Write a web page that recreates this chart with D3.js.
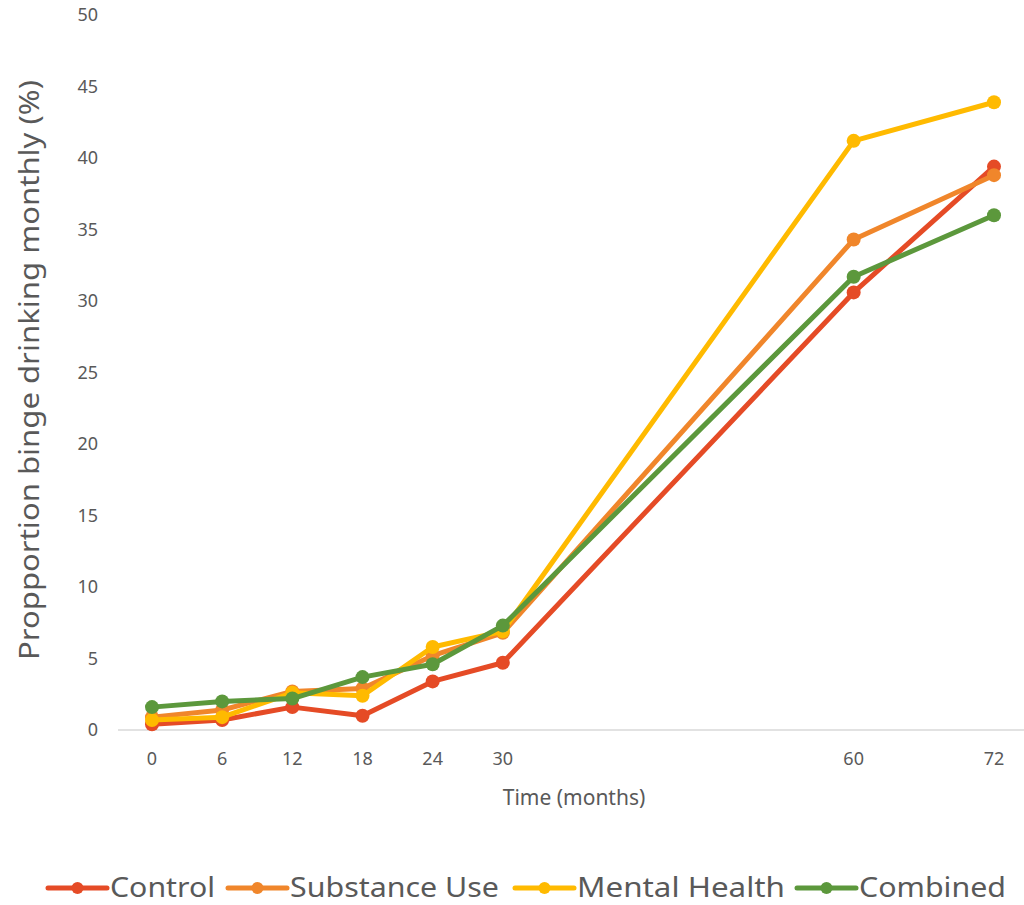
<!DOCTYPE html>
<html><head><meta charset="utf-8">
<script src="https://cdn.jsdelivr.net/npm/d3@7"></script>
<style>body{margin:0;background:#fff}svg{display:block}</style>
</head><body>
<svg id="c" width="1024" height="905"></svg>
<script>
const months = [0, 6, 12, 18, 24, 30, 60, 72];
const yTicks = [0, 5, 10, 15, 20, 25, 30, 35, 40, 45, 50];
const seriesNames = ["Control", "Substance Use", "Mental Health", "Combined"];
const control = [0.4, 0.7, 1.6, 1.0, 3.4, 4.7, 30.6, 39.4];
const substanceUse = [0.9, 1.4, 2.7, 2.9, 5.2, 6.8, 34.3, 38.8];
const mentalHealth = [0.7, 0.9, 2.6, 2.4, 5.8, 6.9, 41.2, 43.9];
const combined = [1.6, 2.0, 2.2, 3.7, 4.6, 7.3, 31.7, 36.0];
const colors = ["#E54B26", "#F0862B", "#FFBA00", "#5C983C"];
const allSeries = [control, substanceUse, mentalHealth, combined];

const svg = d3.select("#c");
const font = "'Noto Sans', Lato, sans-serif";
const x = d3.scaleLinear().domain([0, 72]).range([152, 994]);
const y = d3.scaleLinear().domain([0, 50]).range([730, 15]);

// baseline
svg.append("line").attr("x1", 118).attr("x2", 1024).attr("y1", y(0)).attr("y2", y(0))
  .attr("stroke", "#d9d9d9").attr("stroke-width", 1.5);

// y tick labels
svg.append("g").selectAll("text").data(yTicks).join("text")
  .attr("x", 98).attr("y", d => y(d)).attr("dy", "0.35em").attr("text-anchor", "end")
  .attr("font-family", font).attr("font-size", 18).attr("fill", "#595959").text(d => d);

// x tick labels
svg.append("g").selectAll("text").data(months).join("text")
  .attr("x", d => x(d)).attr("y", 759).attr("dy", "0.35em").attr("text-anchor", "middle")
  .attr("font-family", font).attr("font-size", 18).attr("fill", "#595959").text(d => d);

// axis titles
svg.append("text").attr("x", 574).attr("y", 798).attr("dy", "0.35em").attr("text-anchor", "middle")
  .attr("font-family", font).attr("font-size", 21).attr("fill", "#595959").text("Time (months)");
svg.append("text").attr("transform", "translate(30,370) rotate(-90)").attr("dy", "0.35em")
  .attr("text-anchor", "middle").attr("font-family", font).attr("font-size", 27).attr("fill", "#595959")
  .attr("textLength", 580).attr("lengthAdjust", "spacingAndGlyphs")
  .text("Propportion binge drinking monthly (%)");

// lines
const line = d3.line().x((d, i) => x(months[i])).y(d => y(d));
allSeries.forEach((s, k) => {
  const g = svg.append("g");
  g.append("path").datum(s).attr("d", line).attr("fill", "none")
    .attr("stroke", colors[k]).attr("stroke-width", 5).attr("stroke-linejoin", "round");
  g.selectAll("circle").data(s).join("circle")
    .attr("cx", (d, i) => x(months[i])).attr("cy", d => y(d)).attr("r", 7).attr("fill", colors[k]);
});

// legend
const legX = [48, 228, 515, 797];
const legW = [105, 209, 208, 147];
const ly = 888;
seriesNames.forEach((n, k) => {
  const g = svg.append("g");
  g.append("line").attr("x1", legX[k]).attr("x2", legX[k] + 59).attr("y1", ly).attr("y2", ly)
    .attr("stroke", colors[k]).attr("stroke-width", 5).attr("stroke-linecap", "round");
  g.append("circle").attr("cx", legX[k] + 29.5).attr("cy", ly).attr("r", 6).attr("fill", colors[k]);
  g.append("text").attr("x", legX[k] + 62).attr("y", ly).attr("dy", "0.35em")
    .attr("font-family", font).attr("font-size", 27).attr("fill", "#595959")
    .attr("textLength", legW[k]).attr("lengthAdjust", "spacingAndGlyphs").text(n);
});
</script>
</body></html>
